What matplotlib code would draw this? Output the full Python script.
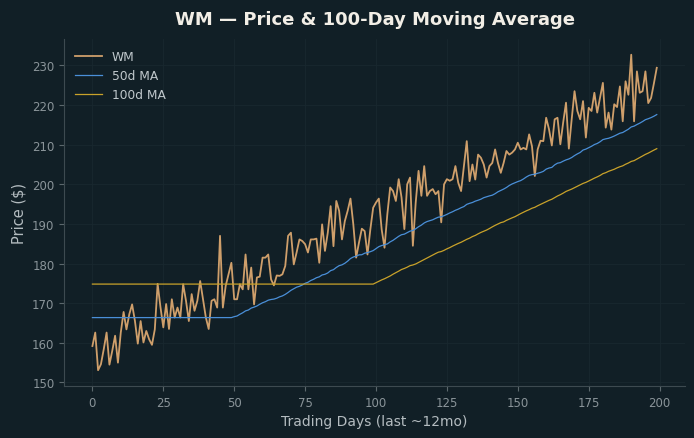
import matplotlib
matplotlib.use("Agg")
import matplotlib.pyplot as plt
import numpy as np
import pandas as pd

title = "WM — Price & 100-Day Moving Average"
xlabel = "Trading Days (last ~12mo)"
ylabel = "Price ($)"
series_names = ["WM", "50d MA", "100d MA"]
ma_windows = [50, 100]

price = [
    159.2, 162.6, 153.1, 154.6, 158.4, 162.6, 154.5, 158.0, 161.8, 155.0,
    162.6, 167.8, 163.4, 167.2, 169.7, 165.5, 159.8, 165.5, 160.1, 163.0,
    160.9, 159.5, 163.4, 174.9, 169.0, 163.9, 169.8, 163.5, 171.0, 166.4,
    168.9, 166.4, 174.8, 170.6, 165.5, 172.3, 168.1, 170.6, 175.6, 171.0,
    166.4, 163.5, 170.6, 171.0, 168.9, 187.0, 168.9, 174.4, 177.3, 180.2,
    171.0, 171.0, 174.8, 173.5, 182.3, 173.5, 179.0, 169.7, 176.5, 176.7,
    181.5, 181.5, 182.3, 176.0, 174.5, 177.0, 176.9, 177.3, 179.4, 187.0,
    187.8, 179.8, 182.8, 186.1, 185.7, 184.9, 182.8, 186.1, 186.1, 186.3,
    180.2, 189.9, 183.2, 187.8, 194.5, 184.4, 195.8, 193.3, 186.1, 190.7,
    193.3, 196.4, 189.9, 181.5, 185.3, 188.8, 188.2, 182.3, 188.6, 194.1,
    195.4, 196.4, 188.6, 184.0, 192.5, 199.2, 198.3, 195.8, 201.3, 196.7,
    188.7, 200.0, 201.7, 184.5, 195.4, 203.4, 197.1, 204.6, 197.1, 198.3,
    198.8, 197.5, 198.3, 190.4, 200.0, 201.3, 200.9, 201.3, 204.6, 200.4,
    198.3, 204.6, 210.9, 200.8, 205.0, 201.2, 207.5, 206.7, 205.0, 201.7,
    204.6, 205.4, 208.8, 205.4, 202.9, 205.4, 208.4, 207.5, 208.0, 208.8,
    210.5, 208.8, 209.2, 208.8, 212.6, 209.6, 202.1, 208.8, 211.0, 210.9,
    216.8, 213.9, 209.8, 216.4, 216.8, 210.1, 215.6, 220.6, 209.0, 216.4,
    223.5, 218.5, 216.4, 221.0, 211.8, 219.3, 218.5, 223.1, 218.1, 221.9,
    225.6, 214.3, 218.1, 213.8, 220.2, 219.5, 224.7, 215.9, 226.0, 222.6,
    232.7, 215.9, 228.5, 223.1, 223.5, 228.5, 220.5, 221.8, 225.5, 229.4,
]

days = np.arange(len(price))
s = pd.Series(price, index=days)
ma50 = s.rolling(ma_windows[0]).mean().bfill()
ma100 = s.rolling(ma_windows[1]).mean().bfill()

bg = "#111f26"
fig = plt.figure(figsize=(6.94, 4.39), dpi=100, facecolor=bg)
ax = fig.add_axes([0.0925, 0.1185, 0.8945, 0.7905], facecolor=bg)

ax.plot(days, s.values, color="#cf9f6b", lw=1.3, label=series_names[0])
ax.plot(days, ma50.values, color="#4a8fd8", lw=0.9, label=series_names[1])
ax.plot(days, ma100.values, color="#c9a22a", lw=0.9, label=series_names[2])

ax.set_xticks([0, 25, 50, 75, 100, 125, 150, 175, 200])
ax.set_yticks([150, 160, 170, 180, 190, 200, 210, 220, 230])
ax.grid(True, color="#19282f", lw=0.6)
ax.set_axisbelow(True)
for side in ["top", "right"]:
    ax.spines[side].set_visible(False)
for side in ["left", "bottom"]:
    ax.spines[side].set_color("#3d4a50")
ax.tick_params(colors="#8a9499", labelsize=8.5, length=3.5, width=0.8)
ax.tick_params(axis="both", colors="#5c686d", labelcolor="#8a9499")

ax.set_xlabel(xlabel, color="#b4bcc0", fontsize=10)
ax.set_ylabel(ylabel, color="#b4bcc0", fontsize=10.5)
ax.set_title(title, color="#f2eee6", fontsize=13, fontweight="bold", pad=11)

leg = ax.legend(loc="upper left", frameon=False, fontsize=8.8, handlelength=2.2)
for t in leg.get_texts():
    t.set_color("#c0c8cc")

fig.savefig("out.png", dpi=100, facecolor=bg)
